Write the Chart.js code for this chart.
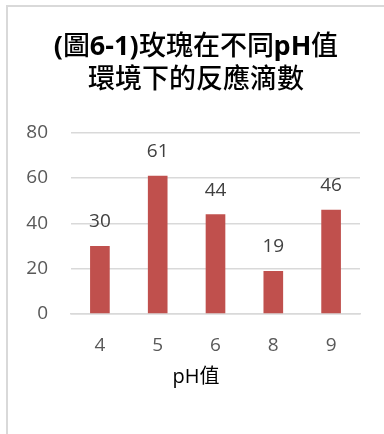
<!DOCTYPE html>
<html>
<head>
<meta charset="utf-8">
<script src="https://cdn.jsdelivr.net/npm/chart.js@4/dist/chart.umd.min.js"></script>
<style>
  @font-face {
    font-family: 'TitleCJK';
    src: local('Noto Sans CJK TC Medium'), local('NotoSansCJKtc-Medium'),
         local('Noto Sans CJK TC Regular'), local('NotoSansCJKtc-Regular');
    font-weight: bold;
  }
  html, body { margin: 0; padding: 0; background: #fff; overflow: hidden; }
  #frame { position: absolute; left: 6px; top: 5px; width: 500px; height: 500px;
           border-top: 2px solid #d9d9d9; border-left: 2px solid #d9d9d9; }
  #wrap { position: absolute; left: 0; top: 0; width: 384px; height: 434px; }
</style>
</head>
<body>
<div id="frame"></div>
<div id="wrap"><canvas id="c" width="384" height="434"></canvas></div>
<script>
const titleLines = ['(圖6-1)玫瑰在不同pH值', '環境下的反應滴數'];
const xAxisTitle = 'pH值';
const categories = ['4', '5', '6', '8', '9'];
const values = [30, 61, 44, 19, 46];
const yTicks = [0, 20, 40, 60, 80];

const barColor = '#C0504D';
const textColor = '#595959';
const latin = "'Open Sans', 'Noto Sans CJK TC', sans-serif";
const titleFamily = "'Open Sans', 'TitleCJK', 'Noto Sans CJK TC', sans-serif";

const valueLabels = {
  id: 'valueLabels',
  afterDatasetsDraw(chart) {
    const ctx = chart.ctx;
    ctx.save();
    ctx.font = '19px ' + latin;
    ctx.fillStyle = '#404040';
    ctx.textAlign = 'center';
    ctx.textBaseline = 'middle';
    chart.getDatasetMeta(0).data.forEach((el, i) => {
      ctx.fillText(String(values[i]), el.x, el.y - 24);
    });
    ctx.restore();
  }
};

function draw() {
  new Chart(document.getElementById('c'), {
    type: 'bar',
    data: {
      labels: categories,
      datasets: [{
        data: values,
        backgroundColor: barColor,
        borderWidth: 0,
        barPercentage: 0.34,
        categoryPercentage: 1
      }]
    },
    options: {
      responsive: false,
      animation: false,
      events: [],
      layout: { padding: { left: 8, right: 0, top: 0, bottom: 0 } },
      plugins: {
        legend: { display: false },
        tooltip: { enabled: false },
        title: {
          display: true,
          text: titleLines,
          color: '#000',
          font: { family: titleFamily, size: 27, weight: 'bold', lineHeight: 1.222 },
          padding: { top: 30.5, bottom: 36.2 }
        },
        subtitle: {
          display: true,
          position: 'bottom',
          text: xAxisTitle,
          color: '#000',
          font: { family: latin, size: 20, weight: 'normal', lineHeight: 1.2 },
          padding: { top: 4.2, bottom: 45 }
        }
      },
      scales: {
        x: {
          grid: { display: true, drawOnChartArea: false, drawTicks: true, tickLength: 16, tickColor: 'rgba(0,0,0,0)' },
          border: { display: true, color: '#d9d9d9', width: 1.5 },
          ticks: { color: textColor, font: { family: latin, size: 19 }, padding: 4 }
        },
        y: {
          min: 0, max: 80,
          afterFit(scale) { scale.width = 63; },
          afterBuildTicks(scale) { scale.ticks = yTicks.map(v => ({ value: v })); },
          grid: { color: '#d9d9d9', lineWidth: 1.5, drawTicks: false },
          border: { display: false },
          ticks: { color: textColor, font: { family: latin, size: 19 }, padding: 23 }
        },
        y2: {
          position: 'right',
          display: true,
          afterFit(scale) { scale.width = 24; },
          grid: { display: false, drawTicks: false },
          border: { display: false },
          ticks: { display: false }
        }
      }
    },
    plugins: [valueLabels]
  });
}

Promise.all([
  document.fonts.load("bold 27px 'TitleCJK'", '玫瑰'),
  document.fonts.load("bold 27px 'Open Sans'", 'pH'),
  document.fonts.load("19px 'Open Sans'", '0123')
]).catch(() => {}).then(draw);
</script>
</body>
</html>
